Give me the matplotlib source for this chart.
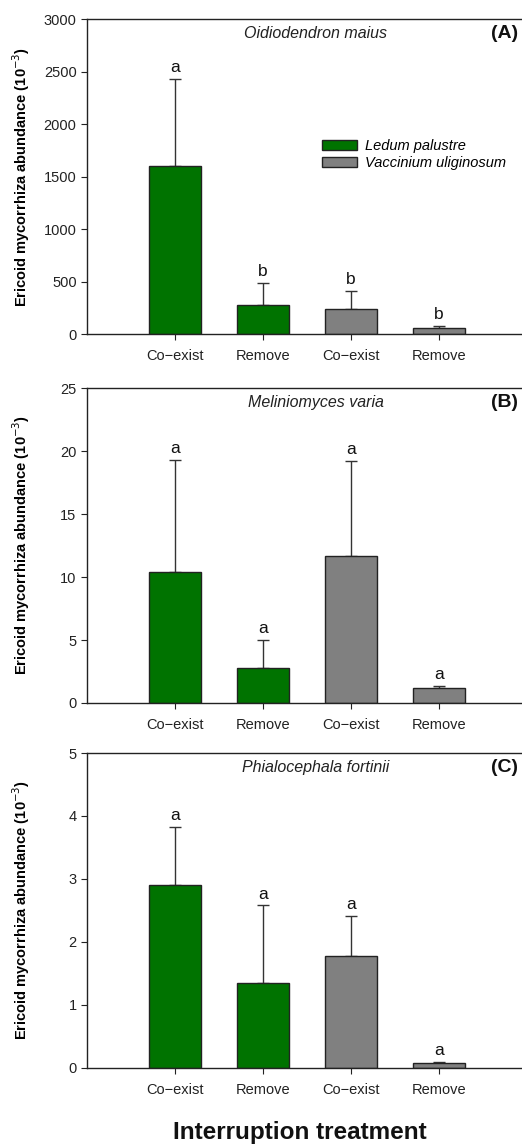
import numpy as np
import matplotlib
matplotlib.use('Agg')
import matplotlib.pyplot as plt
from matplotlib.patches import Patch

plt.rcParams['font.family'] = ['Liberation Sans', 'DejaVu Sans']

# Data
treatments = ['Co\u2212exist', 'Remove', 'Co\u2212exist', 'Remove']
hosts = ['Ledum palustre', 'Ledum palustre', 'Vaccinium uliginosum', 'Vaccinium uliginosum']
species = ['Oidiodendron maius', 'Meliniomyces varia', 'Phialocephala fortinii']
panel_tags = ['(A)', '(B)', '(C)']

means_a = [1600, 280, 240, 60]
err_a = [830, 205, 170, 15]
letters_a = ['a', 'b', 'b', 'b']

means_b = [10.4, 2.8, 11.65, 1.2]
err_b = [8.9, 2.2, 7.55, 0.15]
letters_b = ['a', 'a', 'a', 'a']

means_c = [2.9, 1.35, 1.78, 0.08]
err_c = [0.93, 1.23, 0.64, 0.02]
letters_c = ['a', 'a', 'a', 'a']

ymaxes = [3000, 25, 5]
ysteps = [500, 5, 1]

green = '#007300'
grey = '#808080'
colors = [green, green, grey, grey]

fig = plt.figure(figsize=(5.22, 11.47), dpi=100)
fig.patch.set_facecolor('white')

bottoms = [0.7088, 0.3871, 0.0689]
all_means = [means_a, means_b, means_c]
all_err = [err_a, err_b, err_c]
all_letters = [letters_a, letters_b, letters_c]

x = np.arange(1, 5)
for i in range(3):
    ax = fig.add_axes([0.1667, bottoms[i], 0.843, 0.2746])
    m = all_means[i]
    e = all_err[i]
    ax.bar(x, m, width=0.6, color=colors, edgecolor='#222222', linewidth=1.0, zorder=2)
    ax.errorbar(x, m, yerr=[np.zeros(4), e], fmt='none', ecolor='#333333',
                elinewidth=1.0, capsize=4, capthick=1.0, zorder=1)
    ymax = ymaxes[i]
    for xi, mi, ei, lab in zip(x, m, e, all_letters[i]):
        ax.text(xi, mi + ei + ymax * 0.012, lab, ha='center', va='bottom', fontsize=12.5, color='#111111')
    ax.set_xlim(0, 5)
    ax.set_ylim(0, ymax)
    ax.set_yticks(np.arange(0, ymax + ysteps[i] / 2, ysteps[i]))
    ax.set_xticks(x)
    ax.set_xticklabels(treatments)
    ax.tick_params(axis='both', direction='out', labelsize=10.5, colors='#222222', length=4)
    ax.tick_params(axis='x', pad=7)
    ax.spines['right'].set_visible(False)
    for s in ['left', 'top', 'bottom']:
        ax.spines[s].set_linewidth(1.0)
        ax.spines[s].set_color('#222222')
    ax.set_ylabel('Ericoid mycorrhiza abundance (10$^{-3}$)', fontsize=10.5, fontweight='bold')
    ax.yaxis.set_label_coords(-0.125, 0.5)
    ax.text(0.52, 0.955, species[i], transform=ax.transAxes, ha='center', va='center',
            fontsize=11.5, style='italic', color='#222222')
    ax.text(0.98, 0.955, panel_tags[i], transform=ax.transAxes, ha='right', va='center',
            fontsize=14, fontweight='bold', color='#111111')
    if i == 0:
        handles = [Patch(facecolor=green, edgecolor='#222222', label='Ledum palustre'),
                   Patch(facecolor=grey, edgecolor='#222222', label='Vaccinium uliginosum')]
        leg = ax.legend(handles=handles, loc='upper left', bbox_to_anchor=(0.51, 0.65),
                        frameon=False, fontsize=10.5, handlelength=2.4, handleheight=0.7,
                        labelspacing=0.2, borderpad=0.2, handletextpad=0.6)
        for t in leg.get_texts():
            t.set_style('italic')

fig.text(0.575, 0.003, 'Interruption treatment', ha='center', va='bottom',
         fontsize=17.5, fontweight='bold', color='#111111')

fig.savefig('out.png', dpi=100, facecolor='white')
